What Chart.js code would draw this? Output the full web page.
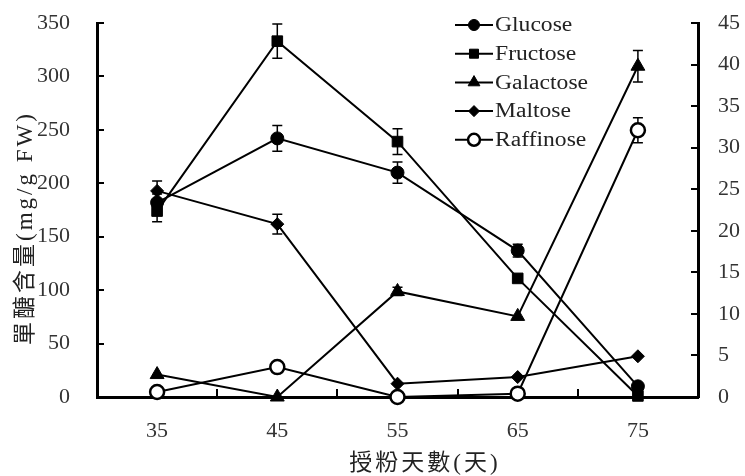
<!DOCTYPE html>
<html>
<head>
<meta charset="utf-8">
<script src="https://cdn.jsdelivr.net/npm/chart.js@4/dist/chart.umd.min.js"></script>
<style>
  html, body { margin: 0; padding: 0; background: #fff; }
  #wrap { width: 745px; height: 476px; }
</style>
</head>
<body>
<div id="wrap"><canvas id="c" width="745" height="476"></canvas></div>
<script>
// Days after pollination
const days = ['35', '45', '55', '65', '75'];

// Left axis (mg/g FW)
const glucose      = [182, 242, 210, 137, 10];
const glucoseErr   = [8, 12, 10, 6, 0];
const fructose     = [174, 333, 239, 111, 1];
const fructoseErr  = [10, 16, 12, 0, 0];

// Right axis (mg/g FW)
const galactose    = [2.7, 0, 12.7, 9.7, 39.8];
const galactoseErr = [0, 0, 0.5, 0, 1.9];
const maltose      = [24.8, 20.8, 1.6, 2.4, 4.9];
const maltoseErr   = [1.2, 1.2, 0, 0, 0];
const raffinose    = [0.6, 3.6, 0, 0.4, 32.1];
const raffinoseErr = [0, 0, 0, 0, 1.5];

const seriesNames = ['Glucose', 'Fructose', 'Galactose', 'Maltose', 'Raffinose'];
const leftMax = 350, leftStep = 50;
const rightMax = 45, rightStep = 5;

const xTitle = '授粉天數(天)';
const yTitle = '單醣含量(mg/g FW)';

const SERIF = "'Liberation Serif', 'Times New Roman', serif";
const TITLE_FONT = "23px 'Liberation Serif', 'Noto Sans CJK TC', serif";

function mkSet(label, data, err, axis, style, radius, open) {
  return {
    label, data, errors: err, yAxisID: axis,
    borderColor: '#000', borderWidth: 2, backgroundColor: '#000',
    pointStyle: style, pointRadius: radius, pointHoverRadius: radius,
    pointBackgroundColor: open ? '#fff' : '#000',
    pointBorderColor: '#000', pointBorderWidth: open ? 2.5 : 1,
    tension: 0, clip: false, fill: false
  };
}

const datasets = [
  mkSet(seriesNames[0], glucose, glucoseErr, 'y', 'circle', 6.5, false),
  mkSet(seriesNames[1], fructose, fructoseErr, 'y', 'rect', 7.5, false),
  mkSet(seriesNames[2], galactose, galactoseErr, 'y1', 'triangle', 8, false),
  mkSet(seriesNames[3], maltose, maltoseErr, 'y1', 'rectRot', 6.5, false),
  mkSet(seriesNames[4], raffinose, raffinoseErr, 'y1', 'circle', 7, true)
];

// Error bars, drawn beneath the markers
const errorBars = {
  id: 'errorBars',
  beforeDatasetsDraw(chart) {
    const ctx = chart.ctx;
    const xs = chart.scales.x;
    ctx.save();
    ctx.strokeStyle = '#000';
    ctx.lineWidth = 1.5;
    chart.data.datasets.forEach(ds => {
      const ys = chart.scales[ds.yAxisID];
      ds.data.forEach((v, i) => {
        const e = ds.errors[i];
        if (!e) return;
        const x = xs.getPixelForValue(i);
        const yt = ys.getPixelForValue(v + e);
        const yb = ys.getPixelForValue(Math.max(0, v - e));
        ctx.beginPath();
        ctx.moveTo(x, yt); ctx.lineTo(x, yb);
        ctx.moveTo(x - 5, yt); ctx.lineTo(x + 5, yt);
        ctx.moveTo(x - 5, yb); ctx.lineTo(x + 5, yb);
        ctx.stroke();
      });
    });
    ctx.restore();
  }
};

// Inward tick marks, legend and axis titles
const decor = {
  id: 'decor',
  afterDraw(chart) {
    const ctx = chart.ctx;
    const a = chart.chartArea;
    const xs = chart.scales.x, yl = chart.scales.y, yr = chart.scales.y1;
    ctx.save();
    ctx.strokeStyle = '#000';
    ctx.lineWidth = 2;
    ctx.beginPath();
    for (let v = 0; v <= leftMax; v += leftStep) {
      const y = Math.round(yl.getPixelForValue(v));
      ctx.moveTo(a.left, y); ctx.lineTo(a.left + 7, y);
    }
    for (let v = 0; v <= rightMax; v += rightStep) {
      const y = Math.round(yr.getPixelForValue(v));
      ctx.moveTo(a.right, y); ctx.lineTo(a.right - 7, y);
    }
    for (let i = 1; i < days.length; i++) {
      const x = Math.round(xs.getPixelForValue(i - 0.5));
      ctx.moveTo(x, a.bottom); ctx.lineTo(x, a.bottom - 8);
    }
    ctx.stroke();

    // legend
    const rowY0 = 25, rowGap = 28.7;
    const lx0 = 455, lx1 = 493, mx = 474, tx = 495;
    chart.data.datasets.forEach((ds, k) => {
      const y = rowY0 + k * rowGap;
      ctx.strokeStyle = '#000';
      ctx.lineWidth = 2;
      ctx.beginPath(); ctx.moveTo(lx0, y); ctx.lineTo(lx1, y); ctx.stroke();
      ctx.fillStyle = ds.pointBackgroundColor;
      ctx.strokeStyle = '#000';
      ctx.lineWidth = ds.pointBorderWidth;
      Chart.helpers.drawPoint(ctx, {
        pointStyle: ds.pointStyle, rotation: 0,
        radius: ds.pointRadius * 0.85, borderWidth: ds.pointBorderWidth
      }, mx, y);
      // slightly widened serif label
      ctx.save();
      ctx.translate(tx, y + 1);
      ctx.scale(1.18, 1);
      ctx.font = '20px ' + SERIF;
      ctx.textBaseline = 'middle';
      ctx.textAlign = 'left';
      ctx.fillStyle = '#222';
      ctx.fillText(ds.label, 0, 0);
      ctx.restore();
    });

    // axis titles
    ctx.fillStyle = '#222';
    ctx.font = TITLE_FONT;
    ctx.textAlign = 'center';
    ctx.textBaseline = 'middle';
    if ('letterSpacing' in ctx) ctx.letterSpacing = '3px';
    ctx.fillText(xTitle, 425, 464);
    ctx.translate(26, 228);
    ctx.rotate(-Math.PI / 2);
    ctx.fillText(yTitle, 0, 0);
    ctx.restore();
  }
};

const tickFont = { family: SERIF, size: 22 };

new Chart(document.getElementById('c'), {
  type: 'line',
  data: { labels: days, datasets },
  options: {
    responsive: false,
    devicePixelRatio: 1,
    animation: false,
    events: [],
    layout: { padding: { top: 23, left: 0, right: 0, bottom: 0 } },
    plugins: { legend: { display: false }, tooltip: { enabled: false } },
    scales: {
      x: {
        type: 'category', offset: true,
        grid: { display: false, drawTicks: true, tickLength: 21 },
        border: { display: true, width: 3, color: '#000' },
        ticks: { color: '#333', font: tickFont, padding: 0 },
        afterFit(s) { s.height = 79; }
      },
      y: {
        position: 'left', min: 0, max: leftMax,
        grid: { display: false, drawTicks: true, tickLength: 27 },
        border: { display: true, width: 3, color: '#000' },
        ticks: { stepSize: leftStep, color: '#333', font: tickFont, padding: 0 },
        afterFit(s) { s.width = 97; }
      },
      y1: {
        position: 'right', min: 0, max: rightMax,
        grid: { display: false, drawTicks: true, tickLength: 20 },
        border: { display: true, width: 3, color: '#000' },
        ticks: { stepSize: rightStep, color: '#333', font: tickFont, padding: 0 },
        afterFit(s) { s.width = 47; }
      }
    }
  },
  plugins: [errorBars, decor]
});
</script>
</body>
</html>
